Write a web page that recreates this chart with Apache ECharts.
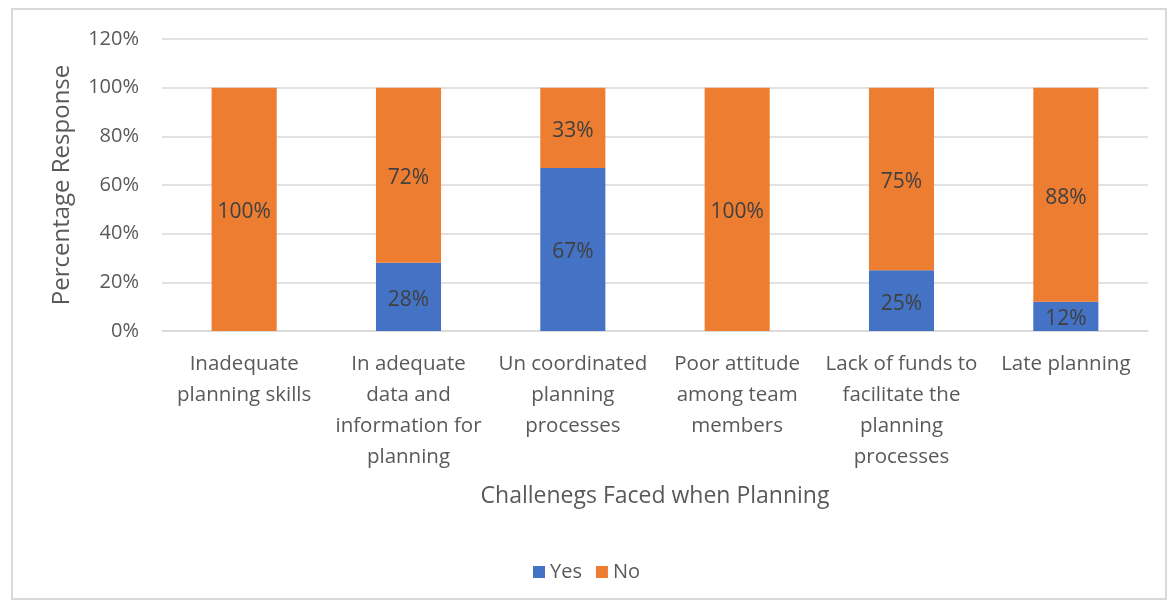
<!DOCTYPE html>
<html>
<head>
<meta charset="utf-8">
<script src="https://cdn.jsdelivr.net/npm/echarts@6/dist/echarts.min.js"></script>
<style>
  html, body { margin: 0; padding: 0; background: #fff; }
  #frame { position: absolute; left: 11px; top: 8px; width: 1156px; height: 592px; border: 2px solid #d9d9d9; box-sizing: border-box; }
  #chart { width: 1173px; height: 604px; }
</style>
</head>
<body>
<div id="frame"></div>
<div id="chart"></div>
<script>
// Challenges faced when planning: share of responses
const categories = [
  'Inadequate\nplanning skills',
  'In adequate\ndata and\ninformation for\nplanning',
  'Un coordinated\nplanning\nprocesses',
  'Poor attitude\namong team\nmembers',
  'Lack of funds to\nfacilitate the\nplanning\nprocesses',
  'Late planning'
];
const yesValues = [0, 28, 67, 0, 25, 12];
const noValues = [100, 72, 33, 100, 75, 88];
const yTicks = [0, 20, 40, 60, 80, 100, 120];

const FONT = 'Open Sans';
const chart = echarts.init(document.getElementById('chart'), null, { renderer: 'canvas' });

const labelStyle = {
  show: true,
  position: 'inside',
  offset: [0, 3],
  color: '#404040',
  fontFamily: FONT,
  fontSize: 21,
  formatter: p => (p.value > 0 ? p.value + '%' : '')
};

chart.setOption({
  animation: false,
  textStyle: { fontFamily: FONT },
  grid: { left: 162, right: 25, top: 39, bottom: 273 },
  legend: {
    data: ['Yes', 'No'],
    top: 557,
    left: 'center',
    itemWidth: 12,
    itemHeight: 12,
    itemGap: 14,
    icon: 'rect',
    textStyle: { color: '#595959', fontSize: 20, fontFamily: FONT }
  },
  xAxis: {
    type: 'category',
    data: categories,
    name: 'Challenegs Faced when Planning',
    nameLocation: 'middle',
    nameGap: 154,
    nameTextStyle: { color: '#595959', fontSize: 23, fontFamily: FONT },
    axisLine: { show: true, lineStyle: { color: '#d9d9d9', width: 1.5 } },
    axisTick: { show: false },
    axisLabel: {
      interval: 0,
      color: '#595959',
      fontSize: 20.5,
      fontFamily: FONT,
      lineHeight: 31,
      margin: 18
    }
  },
  yAxis: {
    type: 'value',
    min: 0,
    max: 120,
    interval: 20,
    name: 'Percentage Response',
    nameLocation: 'middle',
    nameGap: 88,
    nameTextStyle: { color: '#595959', fontSize: 24, fontFamily: FONT },
    axisLine: { show: false },
    axisTick: { show: false },
    splitLine: { lineStyle: { color: '#d9d9d9', width: 1.5 } },
    axisLabel: {
      color: '#595959',
      fontSize: 20,
      fontFamily: FONT,
      margin: 23,
      formatter: v => (yTicks.includes(v) ? v + '%' : '')
    }
  },
  series: [
    {
      name: 'Yes',
      type: 'bar',
      stack: 'total',
      data: yesValues,
      barWidth: '39.6%',
      itemStyle: { color: '#4472c4' },
      label: labelStyle
    },
    {
      name: 'No',
      type: 'bar',
      stack: 'total',
      data: noValues,
      barWidth: '39.6%',
      itemStyle: { color: '#ed7d31' },
      label: labelStyle
    }
  ]
});
</script>
</body>
</html>
